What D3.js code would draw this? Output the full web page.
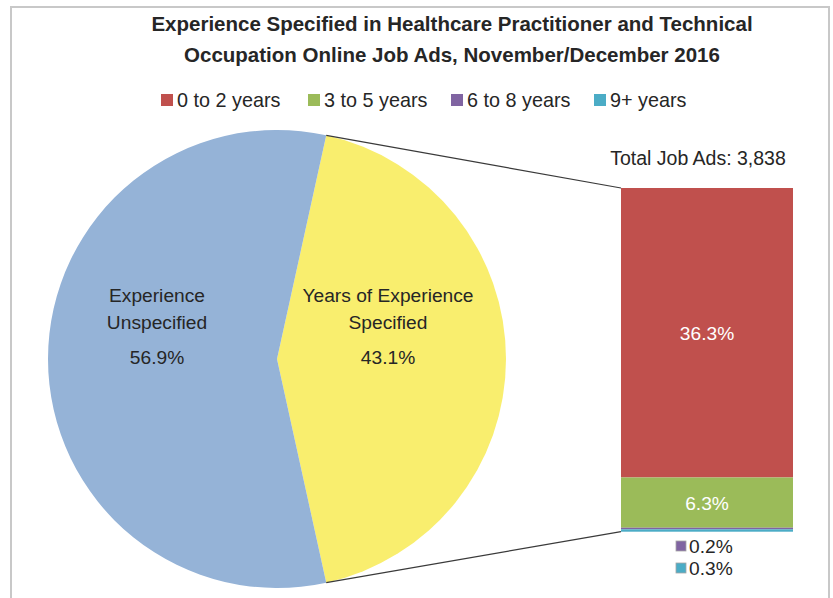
<!DOCTYPE html>
<html>
<head>
<meta charset="utf-8">
<script src="https://d3js.org/d3.v7.min.js"></script>
<style>
  body { margin: 0; background: #fff; }
  text { font-family: "Liberation Sans Narrow", "Liberation Sans", sans-serif; }
</style>
</head>
<body>
<svg id="chart" width="833" height="598"></svg>
<script>
const title_lines = ["Experience Specified in Healthcare Practitioner and Technical",
                     "Occupation Online Job Ads, November/December 2016"];
const pie_labels = [["Years of Experience", "Specified"], ["Experience", "Unspecified"]];
const pie_values = [43.1, 56.9];
const pie_colors = ["#f9ee6e", "#95b3d7"];
const bar_labels = ["0 to 2 years", "3 to 5 years", "6 to 8 years", "9+ years"];
const bar_values = [36.3, 6.3, 0.2, 0.3];
const bar_colors = ["#c0504d", "#9bbb59", "#8064a2", "#4bacc6"];
const total_ads = "Total Job Ads: 3,838";

let svg = d3.select("#chart");
const text_color = "#262626";

// frame
svg.append("rect")
  .attr("x", 11).attr("y", 7)
  .attr("width", 818).attr("height", 620)
  .attr("fill", "none")
  .attr("stroke", "#c8c8c8")
  .attr("stroke-width", 2);

// title
title_lines.forEach((t, i) => {
  svg.append("text")
    .text(t)
    .attr("x", 452).attr("y", 31 + i * 31)
    .attr("text-anchor", "middle")
    .style("font-size", "20.5px")
    .style("font-weight", "bold")
    .style("fill", text_color);
});

// legend
let legend_x = d3.scaleOrdinal().domain(bar_labels).range([161, 308, 451, 594]);
bar_labels.forEach((lab, i) => {
  let g = svg.append("g").attr("transform", `translate(${legend_x(lab)},100)`);
  g.append("rect").attr("x", 0).attr("y", -6).attr("width", 12).attr("height", 12)
    .attr("fill", bar_colors[i]);
  g.append("text").text(lab)
    .attr("x", 16).attr("y", 7)
    .style("font-size", "19.8px")
    .style("fill", text_color);
});

// pie
const cx = 277, cy = 359, r = 229;
let pie = d3.pie().sort(null)
  .startAngle(Math.PI / 2 - (pie_values[0] / 100) * Math.PI)
  .endAngle(Math.PI / 2 - (pie_values[0] / 100) * Math.PI + 2 * Math.PI);
let arcs = pie(pie_values);
let arc = d3.arc().innerRadius(0).outerRadius(r);
let pie_g = svg.append("g").attr("transform", `translate(${cx},${cy})`);
pie_g.selectAll("path")
  .data(arcs)
  .join("path")
  .attr("d", arc)
  .attr("fill", (d, i) => pie_colors[i]);

// pie labels
let label_pos = [[388, 296], [157, 296]];
arcs.forEach((a, i) => {
  let lines = pie_labels[i].concat([d3.format(".1f")(pie_values[i]) + "%"]);
  lines.forEach((l, j) => {
    svg.append("text").text(l)
      .attr("x", label_pos[i][0])
      .attr("y", label_pos[i][1] + 6 + j * 27 + (j == 2 ? 8 : 0))
      .attr("text-anchor", "middle")
      .style("font-size", "19.2px")
      .style("fill", text_color);
  });
});

// bar of the specified slice
const bar_x0 = 621, bar_x1 = 793;
let y = d3.scaleLinear().domain([0, d3.sum(bar_values)]).range([188, 531.7]);
let cum = 0;
let segs = bar_values.map((v, i) => {
  let s = {label: bar_labels[i], value: v, y0: cum, y1: cum + v, color: bar_colors[i]};
  cum += v;
  return s;
});
svg.selectAll("rect.seg")
  .data(segs)
  .join("rect")
  .attr("class", "seg")
  .attr("x", bar_x0)
  .attr("width", bar_x1 - bar_x0)
  .attr("y", d => y(d.y0))
  .attr("height", d => y(d.y1) - y(d.y0))
  .attr("fill", d => d.color);

// connector lines from slice edge to bar corners
let a0 = arcs[0].startAngle, a1 = arcs[0].endAngle;
let pt = (a) => [cx + r * Math.sin(a), cy - r * Math.cos(a)];
[[pt(a0), [bar_x0, y(0)]], [pt(a1), [bar_x0, y(cum)]]].forEach((p) => {
  svg.append("line")
    .attr("x1", p[0][0]).attr("y1", p[0][1])
    .attr("x2", p[1][0]).attr("y2", p[1][1])
    .style("stroke", "#3a3a3a")
    .style("stroke-width", 1.2);
});

// bar labels
const bar_cx = (bar_x0 + bar_x1) / 2;
segs.slice(0, 2).forEach((s) => {
  svg.append("text").text(d3.format(".1f")(s.value) + "%")
    .attr("x", bar_cx)
    .attr("y", (y(s.y0) + y(s.y1)) / 2 + 7)
    .attr("text-anchor", "middle")
    .style("font-size", "19.2px")
    .style("fill", "#ffffff");
});
segs.slice(2).forEach((s, i) => {
  let ly = 546 + i * 22;
  svg.append("rect")
    .attr("x", 676).attr("y", ly - 5).attr("width", 10).attr("height", 10)
    .attr("fill", s.color)
    .attr("stroke", "#a6a6a6").attr("stroke-width", 0.8);
  svg.append("text").text(d3.format(".1f")(s.value) + "%")
    .attr("x", 689).attr("y", ly + 7)
    .style("font-size", "19.2px")
    .style("fill", text_color);
});

svg.append("text").text(total_ads)
  .attr("x", 698).attr("y", 165)
  .attr("text-anchor", "middle")
  .style("font-size", "19.5px")
  .style("fill", text_color);
</script>
</body>
</html>
